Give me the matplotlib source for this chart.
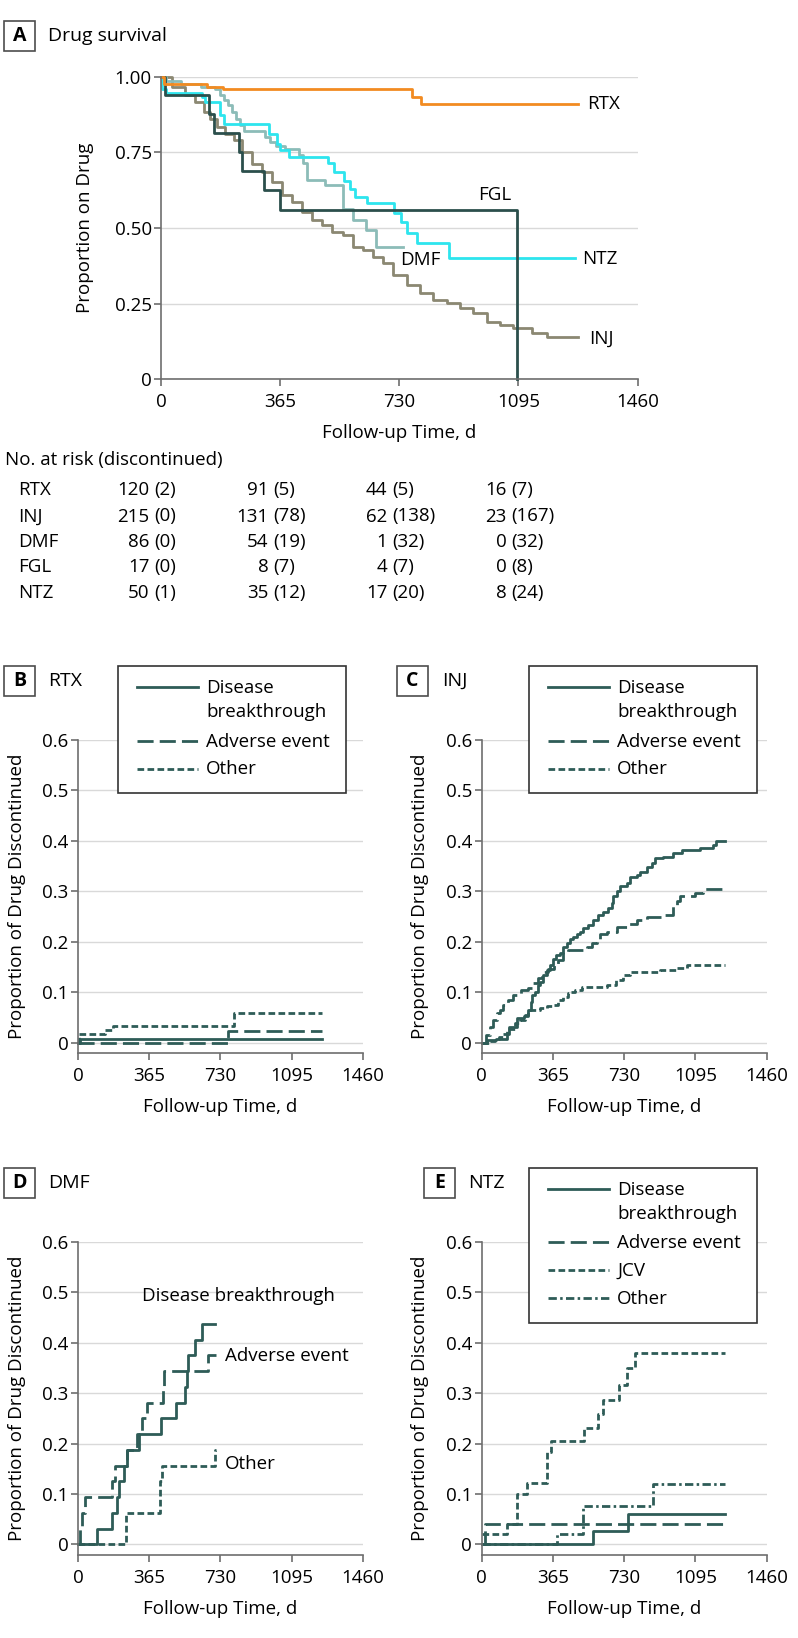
import matplotlib
matplotlib.use("Agg")
import matplotlib.pyplot as plt
import matplotlib.transforms as mtransforms
from matplotlib.lines import Line2D
from matplotlib.patches import Rectangle

W, H = 798, 1638
plt.rcParams["font.family"] = ["Open Sans", "DejaVu Sans"]
plt.rcParams["font.size"] = 13.5

XTICKS = [0, 365, 730, 1095, 1460]

# ---- panel A: drug survival (step curves) ----
RTX_T = [0, 9, 140, 190, 770, 797]
RTX_S = [1.0, 0.976, 0.967, 0.958, 0.934, 0.910]
RTX_END = 1279
INJ_T = [0, 32, 73, 104, 130, 150, 170, 196, 222, 247, 278, 308, 339, 370, 400, 431,
         462, 493, 523, 558, 589, 619, 650, 681, 711, 752, 793, 834, 875, 916, 957,
         997, 1038, 1079, 1137, 1181]
INJ_S = [1.0, 0.966, 0.939, 0.916, 0.883, 0.861, 0.834, 0.812, 0.790, 0.751, 0.713,
         0.685, 0.652, 0.608, 0.586, 0.553, 0.525, 0.509, 0.487, 0.477, 0.438, 0.427,
         0.405, 0.383, 0.345, 0.312, 0.284, 0.262, 0.251, 0.235, 0.218, 0.190, 0.179,
         0.168, 0.152, 0.141]
INJ_END = 1279
DMF_T = [0, 15, 60, 120, 165, 180, 192, 205, 216, 230, 242, 252, 318, 332, 350, 380,
         423, 435, 447, 502, 556, 589, 628, 658]
DMF_S = [1.0, 0.985, 0.975, 0.965, 0.958, 0.94, 0.922, 0.905, 0.883, 0.861, 0.84, 0.82,
         0.80, 0.785, 0.772, 0.762, 0.74, 0.715, 0.66, 0.642, 0.563, 0.526, 0.493, 0.438]
DMF_END = 740
FGL_T = [0, 12, 145, 160, 239, 247, 314, 363, 1089]
FGL_S = [1.0, 0.941, 0.878, 0.814, 0.751, 0.689, 0.627, 0.561, 0.0]
FGL_END = 1089
NTZ_T = [0, 3, 15, 124, 135, 181, 191, 329, 355, 365, 390, 510, 528, 559, 579, 594,
         629, 714, 735, 752, 783, 883]
NTZ_S = [1.0, 0.96, 0.945, 0.933, 0.916, 0.872, 0.845, 0.812, 0.779, 0.757, 0.735,
         0.716, 0.685, 0.655, 0.628, 0.604, 0.582, 0.549, 0.52, 0.483, 0.449, 0.40]
NTZ_END = 1268

# number at risk table
RISK_GROUPS = ["RTX", "INJ", "DMF", "FGL", "NTZ"]
RISK_TIMES = [0, 365, 730, 1095]
AT_RISK = [[120, 91, 44, 16], [215, 131, 62, 23], [86, 54, 1, 0], [17, 8, 4, 0], [50, 35, 17, 8]]
DISCONT = [[2, 5, 5, 7], [0, 78, 138, 167], [0, 19, 32, 32], [0, 7, 7, 8], [1, 12, 20, 24]]

# ---- panels B-E: cumulative discontinuation by cause ----
B_DB_T, B_DB_S = [0, 8], [0.0, 0.008]
B_AE_T, B_AE_S = [0, 770], [0.0, 0.024]
B_OT_T, B_OT_S = [0, 3, 137, 180, 799], [0.0, 0.017, 0.025, 0.034, 0.059]
B_END = 1249

C_DB_T = [0, 25, 75, 128, 140, 179, 215, 239, 250, 260, 273, 290, 299, 316, 333, 350, 367,
          380, 401, 418, 435, 452, 470, 490, 504, 521, 546, 572, 598, 623, 649, 666, 674,
          691, 709, 743, 760, 794, 811, 845, 871, 888, 931, 982, 1024, 1118, 1187, 1200]
C_DB_S = [0.0, 0.006, 0.008, 0.018, 0.031, 0.048, 0.052, 0.064, 0.08, 0.095, 0.101, 0.115,
          0.121, 0.134, 0.145, 0.155, 0.165, 0.174, 0.177, 0.19, 0.197, 0.205, 0.21, 0.215,
          0.22, 0.227, 0.233, 0.243, 0.253, 0.26, 0.267, 0.277, 0.29, 0.30, 0.31, 0.316,
          0.329, 0.333, 0.339, 0.348, 0.356, 0.366, 0.369, 0.377, 0.382, 0.385, 0.392, 0.400]
C_AE_T = [0, 20, 45, 60, 80, 94, 111, 135, 160, 200, 239, 265, 290, 307, 340, 370, 393, 418,
          440, 540, 565, 589, 606, 640, 691, 743, 794, 845, 930, 982, 999, 1016, 1093, 1135]
C_AE_S = [0.0, 0.015, 0.031, 0.045, 0.058, 0.064, 0.075, 0.085, 0.095, 0.104, 0.108, 0.118,
          0.128, 0.141, 0.147, 0.155, 0.164, 0.179, 0.184, 0.19, 0.197, 0.205, 0.215, 0.22,
          0.23, 0.236, 0.243, 0.25, 0.253, 0.27, 0.28, 0.29, 0.296, 0.304]
C_OT_T = [0, 40, 68, 90, 111, 130, 170, 196, 222, 239, 300, 333, 367, 393, 418, 440, 460,
          478, 512, 640, 690, 725, 760, 915, 1000, 1050]
C_OT_S = [0.0, 0.004, 0.008, 0.012, 0.018, 0.028, 0.04, 0.045, 0.054, 0.065, 0.068, 0.072,
          0.075, 0.085, 0.091, 0.098, 0.101, 0.105, 0.111, 0.115, 0.125, 0.135, 0.141, 0.145,
          0.148, 0.154]
C_END = 1246

D_DB_T = [0, 94, 171, 197, 211, 236, 248, 313, 423, 500, 550, 556, 565, 599, 633]
D_DB_S = [0.0, 0.031, 0.062, 0.094, 0.125, 0.156, 0.1875, 0.219, 0.25, 0.281, 0.3125,
          0.344, 0.375, 0.406, 0.4375]
D_DB_END = 702
D_AE_T = [0, 9, 20, 34, 171, 188, 248, 300, 325, 351, 436, 440, 668]
D_AE_S = [0.0, 0.031, 0.062, 0.094, 0.125, 0.156, 0.1875, 0.219, 0.25, 0.281, 0.3125,
          0.344, 0.375]
D_AE_END = 707
D_OT_T = [0, 245, 420, 430, 702]
D_OT_S = [0.0, 0.062, 0.125, 0.156, 0.1875]
D_OT_END = 705

E_DB_T, E_DB_S = [0, 569, 751], [0.0, 0.027, 0.061]
E_AE_T, E_AE_S = [0, 15], [0.0, 0.041]
E_JCV_T = [0, 128, 183, 230, 333, 353, 524, 598, 623, 705, 743, 785]
E_JCV_S = [0.02, 0.041, 0.1, 0.121, 0.183, 0.206, 0.23, 0.259, 0.286, 0.316, 0.35, 0.38]
E_OT_T, E_OT_S = [0, 384, 521, 879], [0.0, 0.02, 0.076, 0.119]
E_END = 1246

CAUSES = ["Disease\nbreakthrough", "Adverse event", "Other"]
CAUSES_NTZ = ["Disease\nbreakthrough", "Adverse event", "JCV", "Other"]

TEAL = "#2e5c57"
SPINE = "#6e6e6e"
GRID = "#d9d9d9"
LW = 2.0
LS = {"solid": "-", "long": (0, (5.8, 2.2)), "short": (0, (2.4, 1.2)),
      "dashdot": (0, (3.0, 1.2, 0.9, 1.2))}


def fx(x):
    return x / W


def fy(y):
    return 1 - y / H


def rect(left, top, right, bottom):
    return [fx(left), fy(bottom), (right - left) / W, (bottom - top) / H]


def step(ax, t, s, t_end, **kw):
    ax.plot(list(t) + [t_end], list(s) + [s[-1]], drawstyle="steps-post",
            clip_on=False, **kw)


def style_axes(ax, yticks, ylabels, ylim, ylab, ylab_x, xlab_y):
    ax.set_xlim(0, 1460)
    ax.set_xticks(XTICKS)
    ax.set_ylim(*ylim)
    ax.set_yticks(yticks)
    ax.set_yticklabels(ylabels)
    for s in ("top", "right"):
        ax.spines[s].set_visible(False)
    for s in ("left", "bottom"):
        ax.spines[s].set_color(SPINE)
        ax.spines[s].set_linewidth(1.2)
    ax.tick_params(length=5, width=1.2, color=SPINE, labelsize=13.5, pad=2)
    ax.tick_params(axis="x", pad=5)
    ax.grid(axis="y", color=GRID, lw=1.0)
    ax.set_axisbelow(True)
    ax.set_xlabel("Follow-up Time, d", fontsize=13.5)
    ax.xaxis.set_label_coords(0.5, xlab_y)
    ax.xaxis.label.set_va("center")
    ax.set_ylabel(ylab, fontsize=13.5)
    ax.yaxis.set_label_coords(ylab_x, 0.5)
    ax.yaxis.label.set_va("center")


def panel_tag(fig, letter, left, top, title, title_x):
    fig.add_artist(Rectangle((fx(left), fy(top + 30)), 31 / W, 30 / H,
                             transform=fig.transFigure, fill=False,
                             ec="#4d4d4d", lw=1.2))
    fig.text(fx(left + 15.5), fy(top + 15), letter, ha="center", va="center",
             fontsize=14, fontweight="bold")
    fig.text(fx(title_x), fy(top + 15), title, ha="left", va="center", fontsize=14)


def draw_legend(fig, box, labels, styles, rows):
    left, top, right, bottom = box
    fig.add_artist(Rectangle((fx(left), fy(bottom)), (right - left) / W,
                             (bottom - top) / H, transform=fig.transFigure,
                             fc="white", ec="#333333", lw=1.2, zorder=5))
    for lab, st, y in zip(labels, styles, rows):
        fig.add_artist(Line2D([fx(left + 19), fx(left + 80)], [fy(y - 1), fy(y - 1)],
                              transform=fig.transFigure, color=TEAL, lw=LW,
                              linestyle=LS[st], zorder=6))
        for k, part in enumerate(lab.split("\n")):
            fig.text(fx(left + 88), fy(y + 23.7 * k), part, ha="left", va="center",
                     fontsize=13.5, zorder=7)


fig = plt.figure(figsize=(W / 100, H / 100), dpi=100)

# ---------------- A ----------------
axA = fig.add_axes(rect(161.4, 76.7, 637.5, 379.3))
style_axes(axA, [0, 0.25, 0.5, 0.75, 1.0], ["0", "0.25", "0.50", "0.75", "1.00"],
           (0, 1), "Proportion on Drug", -0.1605, -0.1775)
step(axA, INJ_T, INJ_S, INJ_END, color="#8b8872", lw=LW)
step(axA, DMF_T, DMF_S, DMF_END, color="#8cbcb8", lw=LW)
step(axA, NTZ_T, NTZ_S, NTZ_END, color="#2de5ee", lw=LW)
step(axA, FGL_T, FGL_S, FGL_END, color="#2b4f4c", lw=LW)
step(axA, RTX_T, RTX_S, RTX_END, color="#f28b21", lw=LW)
for name, tx, ty in [("RTX", 1307, 0.91), ("NTZ", 1290, 0.397), ("INJ", 1311, 0.135),
                     ("DMF", 732, 0.394), ("FGL", 972, 0.609)]:
    axA.text(tx, ty, name, ha="left", va="center", fontsize=13.5)
panel_tag(fig, "A", 4, 21, "Drug survival", 48)

# number at risk table
fig.text(fx(5), fy(460), "No. at risk (discontinued)", ha="left", va="center", fontsize=13.5)
blend = mtransforms.blended_transform_factory(axA.transData, fig.transFigure)
num_tr = mtransforms.offset_copy(blend, fig=fig, x=-12, y=0, units="dots")
par_tr = mtransforms.offset_copy(blend, fig=fig, x=-7, y=0, units="dots")
row_y = [490, 516.5, 542, 567, 593]
for i, grp in enumerate(RISK_GROUPS):
    fig.text(fx(18), fy(row_y[i]), grp, ha="left", va="center", fontsize=13.5)
    for j, t in enumerate(RISK_TIMES):
        fig.text(t, fy(row_y[i]), str(AT_RISK[i][j]), ha="right", va="center",
                 fontsize=13.5, transform=num_tr)
        fig.text(t, fy(row_y[i]), "({0})".format(DISCONT[i][j]), ha="left", va="center",
                 fontsize=13.5, transform=par_tr)

# ---------------- B-E ----------------
YT = [0, 0.1, 0.2, 0.3, 0.4, 0.5, 0.6]
YTL = ["0", "0.1", "0.2", "0.3", "0.4", "0.5", "0.6"]
YLIM = (-0.021, 0.6)
YLAB = "Proportion of Drug Discontinued"

axB = fig.add_axes(rect(78.3, 740, 362.7, 1053.3))
axC = fig.add_axes(rect(481.7, 740, 766.7, 1053.3))
axD = fig.add_axes(rect(78.3, 1242, 362.7, 1555))
axE = fig.add_axes(rect(481.7, 1242, 766.7, 1555))
for ax in (axB, axC, axD, axE):
    style_axes(ax, YT, YTL, YLIM, YLAB, -0.2166, -0.171)

step(axB, B_DB_T, B_DB_S, B_END, color=TEAL, lw=LW, ls=LS["solid"])
step(axB, B_AE_T, B_AE_S, B_END, color=TEAL, lw=LW, ls=LS["long"])
step(axB, B_OT_T, B_OT_S, B_END, color=TEAL, lw=LW, ls=LS["short"])

step(axC, C_DB_T, C_DB_S, C_END, color=TEAL, lw=LW, ls=LS["solid"])
step(axC, C_AE_T, C_AE_S, C_END, color=TEAL, lw=LW, ls=LS["long"])
step(axC, C_OT_T, C_OT_S, C_END, color=TEAL, lw=LW, ls=LS["short"])

step(axD, D_DB_T, D_DB_S, D_DB_END, color=TEAL, lw=LW, ls=LS["solid"])
step(axD, D_AE_T, D_AE_S, D_AE_END, color=TEAL, lw=LW, ls=LS["long"])
step(axD, D_OT_T, D_OT_S, D_OT_END, color=TEAL, lw=LW, ls=LS["short"])
axD.text(325, 0.492, "Disease breakthrough", ha="left", va="center", fontsize=13.5)
axD.text(753, 0.374, "Adverse event", ha="left", va="center", fontsize=13.5)
axD.text(753, 0.16, "Other", ha="left", va="center", fontsize=13.5)

step(axE, E_DB_T, E_DB_S, E_END, color=TEAL, lw=LW, ls=LS["solid"])
step(axE, E_AE_T, E_AE_S, E_END, color=TEAL, lw=LW, ls=LS["long"])
step(axE, E_JCV_T, E_JCV_S, E_END, color=TEAL, lw=LW, ls=LS["short"])
step(axE, E_OT_T, E_OT_S, E_END, color=TEAL, lw=LW, ls=LS["dashdot"])

panel_tag(fig, "B", 4, 666, "RTX", 48)
panel_tag(fig, "C", 397, 666, "INJ", 442)
panel_tag(fig, "D", 4, 1168, "DMF", 48)
panel_tag(fig, "E", 424, 1168, "NTZ", 468)

draw_legend(fig, (118.3, 666, 345.7, 792.7), CAUSES, ["solid", "long", "short"],
            [688, 742, 769.5])
draw_legend(fig, (529.3, 666, 756.7, 792.7), CAUSES, ["solid", "long", "short"],
            [688, 742, 769.5])
draw_legend(fig, (529.3, 1168, 756.7, 1323), CAUSES_NTZ,
            ["solid", "long", "short", "dashdot"], [1190, 1243, 1271, 1299])

fig.savefig("out.png", dpi=100)
